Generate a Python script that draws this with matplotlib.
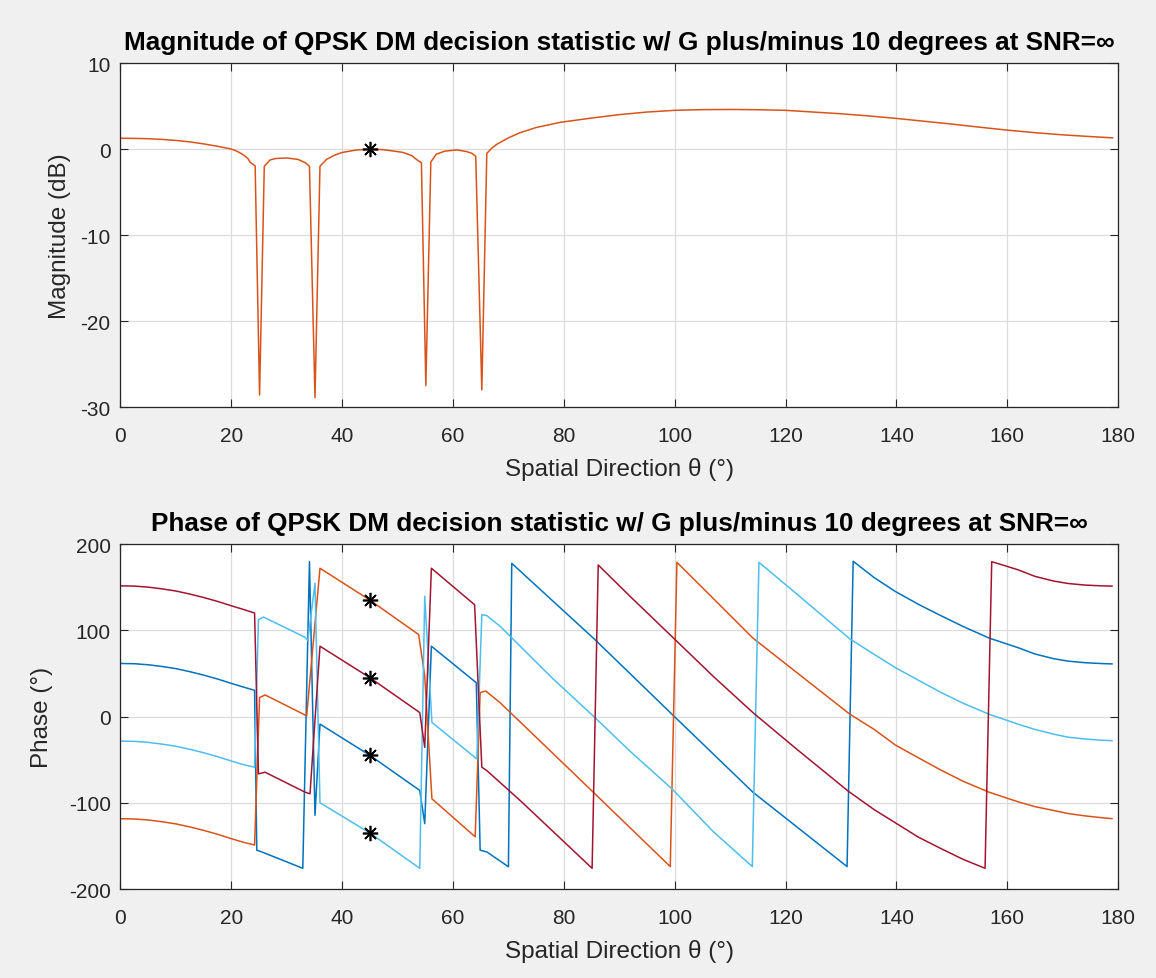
import matplotlib.pyplot as plt
import numpy as np

plt.rcParams['font.family'] = ['Liberation Sans', 'DejaVu Sans']
plt.rcParams['axes.unicode_minus'] = False

# magnitude (dB) vs spatial direction
mag_x = [0, 2.5, 5, 7.5, 10, 12.5, 15, 17.5, 20, 21, 22, 23, 23.4, 24.3, 25.1, 25.95, 27, 28, 30, 32,
         33.3, 34.1, 35.1, 36, 37.2, 38.5, 40, 42.5, 45, 47.5, 50, 51, 52.5, 53.4, 54.3, 55.1, 56, 57,
         58.5, 60.7, 62.5, 63.4, 64.1, 65.2, 66.1, 67, 67.9, 70, 72.1, 75, 79.3, 85, 90, 95, 100, 105,
         110, 115, 120, 125, 130, 135, 140, 145, 150, 155, 160, 165, 170, 175, 179]
mag_y = [1.25, 1.24, 1.2, 1.12, 1.0, 0.83, 0.6, 0.32, 0.0, -0.25, -0.6, -1.1, -1.55, -1.95, -28.6,
         -2.0, -1.27, -1.1, -1.04, -1.2, -1.57, -2.0, -28.9, -2.0, -1.2, -0.75, -0.4, -0.12, 0.0,
         -0.08, -0.3, -0.4, -0.75, -1.2, -1.6, -27.5, -1.5, -0.6, -0.25, -0.1, -0.3, -0.5, -0.85,
         -28.0, -0.5, 0.1, 0.55, 1.3, 1.9, 2.5, 3.1, 3.6, 4.0, 4.3, 4.5, 4.58, 4.6, 4.57, 4.5, 4.3,
         4.1, 3.85, 3.56, 3.23, 2.9, 2.54, 2.2, 1.9, 1.65, 1.45, 1.3]

# phase (deg) of the four QPSK symbols
blue_x = [0, 2.5, 5, 7.5, 10, 12.5, 15, 17.5, 20, 22, 24.2, 24.6, 25.5, 32.9, 34.1, 35.1, 36.0, 45,
          54.0, 54.9, 56.1, 64.2, 64.9, 66.1, 70.0, 70.6, 78, 85.6, 92, 99.5, 107, 114.1, 122, 131.1,
          132.2, 136, 139.8, 144, 148, 152, 156.7, 162, 165, 168.4, 171, 174, 177, 178.9]
blue_y = [61.5, 61.2, 60, 58, 55.5, 52, 48, 43.5, 38.4, 34.5, 30.4, -155, -157, -176, 179.6, -114.5,
          -8.8, -45, -85.7, -124.2, 81.5, 39.2, -155, -157, -174.2, 177.6, 134, 89.2, 49.4, 2.7,
          -43.7, -87.7, -127.8, -174, 180, 161, 145, 130, 117, 104.5, 91, 79.7, 72.5, 67, 64.2,
          62.4, 61.4, 61]

orange_x = [0, 2.5, 5, 7.5, 10, 12.5, 15, 17.5, 20, 22, 24.2, 25.1, 26.1, 33.6, 36.0, 45, 53.8, 54.9,
            56.2, 64.0, 64.9, 65.9, 68.5, 78, 85.6, 92, 99.2, 100.4, 107, 114.1, 122, 131.6, 136,
            139.8, 144, 148, 152, 156.7, 162, 165, 168.4, 171, 174, 177, 178.9]
orange_y = [-118.5, -118.8, -120, -122, -124.5, -128, -132, -136.5, -141.6, -145.5, -149, 21.9, 25,
            0.8, 171.9, 135, 95, 47, -95.4, -139.5, 27.7, 29.6, 16, -42.6, -89.6, -129.3, -174,
            178.8, 136.6, 91, 51.1, 2.7, -15, -33, -48, -62, -75, -87.7, -99, -104.5, -109,
            -112.5, -115.2, -117.3, -118.4]

lblue_x = [0, 2.5, 5, 7.5, 10, 12.5, 15, 17.5, 20, 22, 24.2, 24.9, 25.8, 33.3, 33.8, 35.1, 36.0, 45,
           54.0, 54.9, 56.2, 64.3, 65.2, 66.1, 68.5, 78, 85.6, 92, 99.5, 107, 114.0, 115.2, 122,
           131.6, 136, 140, 144, 148, 152, 156.7, 162, 165, 168.4, 171, 174, 177, 178.9]
lblue_y = [-28.5, -28.8, -30, -32, -34.5, -38, -42, -46.5, -51.6, -55.5, -58.8, 112.3, 115.3, 91.9,
           88, 154.6, -100, -135, -176, 139.5, -6.9, -49.2, 118, 117, 104.6, 44, -1.2, -40.6, -83.8,
           -133.7, -174, 178.8, 142.2, 90, 72, 56, 42, 28, 15.5, 2.7, -9, -15, -20.5, -24, -26,
           -27.5, -28]

red_x = [0, 2.5, 5, 7.5, 10, 12.5, 15, 17.5, 20, 22, 24.2, 24.9, 26.1, 33.3, 34.2, 36.0, 45, 54.0,
         54.9, 56.1, 63.9, 65.2, 66.1, 72.1, 78, 85.1, 86.2, 92, 100, 107, 114.1, 122, 131.3, 136,
         140, 144, 148, 152, 156.0, 157.2, 160, 162, 165, 168.4, 171, 174, 177, 178.9]
red_y = [151.5, 151.2, 150, 148, 145.5, 142, 138, 133.5, 128.4, 124.5, 120, -66.5, -64.6, -87.7,
         -89.6, 81.5, 45, 4.6, -35.8, 171.9, 129.6, -58.8, -62.7, -97.3, -133, -176, 175.7, 139,
         89.6, 46.3, 4.6, -37.8, -86.5, -108, -124, -140, -153, -165.5, -176, 179.5, 174, 170,
         162.5, 157, 154.2, 152.4, 151.5, 151.2]

star_x = 45
star_mag = [0]
star_phase = [135, 45, -45, -135]

xticks = np.arange(0, 181, 20)

fig = plt.figure(figsize=(11.56, 9.79), dpi=100)
fig.patch.set_facecolor('#f0f0f0')

ax1 = fig.add_axes([0.1042, 0.5832, 0.8630, 0.3514])
ax2 = fig.add_axes([0.1042, 0.0909, 0.8630, 0.3524])

ax1.plot(mag_x, mag_y, color='#D95319', lw=1.1)
ax1.plot([star_x] * len(star_mag), star_mag, ls='none', marker=(8, 2, 0), ms=11, mew=1.2, color='k')
ax1.set_ylim(-30, 10)
ax1.set_yticks([-30, -20, -10, 0, 10])
ax1.set_ylabel('Magnitude (dB)', labelpad=7)
ax1.set_title('Magnitude of QPSK DM decision statistic w/ G plus/minus 10 degrees at SNR=\u221e',
              fontweight='bold', fontsize=18.8, pad=10)

ax2.plot(blue_x, blue_y, color='#0072BD', lw=1.1)
ax2.plot(orange_x, orange_y, color='#D95319', lw=1.1)
ax2.plot(lblue_x, lblue_y, color='#4DBEEE', lw=1.1)
ax2.plot(red_x, red_y, color='#A2142F', lw=1.1)
ax2.plot([star_x] * len(star_phase), star_phase, ls='none', marker=(8, 2, 0), ms=11, mew=1.2, color='k')
ax2.set_ylim(-200, 200)
ax2.set_yticks([-200, -100, 0, 100, 200])
ax2.set_ylabel('Phase (\u00b0)', labelpad=11)
ax2.set_title('Phase of QPSK DM decision statistic w/ G plus/minus 10 degrees at SNR=\u221e',
              fontweight='bold', fontsize=18.8, pad=10)

for ax in (ax1, ax2):
    ax.set_xlim(0, 180)
    ax.set_xticks(xticks)
    ax.set_xlabel('Spatial Direction \u03b8 (\u00b0)', fontsize=17.5, color='#262626', labelpad=9)
    ax.yaxis.label.set_fontsize(17.5)
    ax.yaxis.label.set_color('#262626')
    ax.grid(True, color='#dcdcdc', lw=0.9)
    ax.set_axisbelow(True)
    ax.tick_params(direction='in', top=True, right=True, length=6, width=0.8,
                   labelsize=15, colors='#262626')
    ax.tick_params(axis='x', pad=13.5)
    ax.tick_params(axis='y', pad=7)
    for s in ax.spines.values():
        s.set_color('#262626')
        s.set_linewidth(0.9)

fig.savefig('out.png', dpi=100, facecolor=fig.get_facecolor())
